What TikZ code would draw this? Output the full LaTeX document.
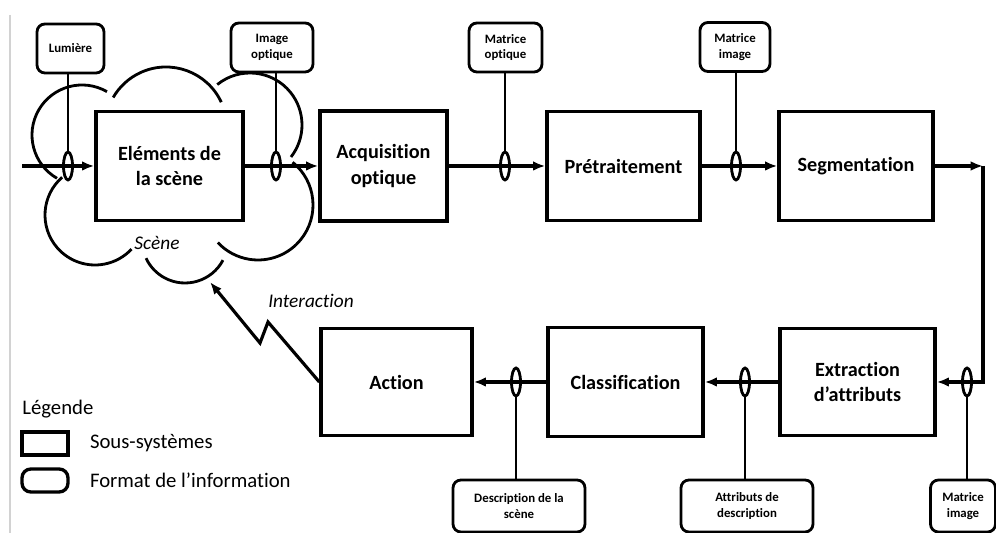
\documentclass[tikz,border=0pt]{standalone}
\usepackage{fontspec}
\setmainfont{Carlito}[Ligatures=NoCommon]
\usetikzlibrary{arrows.meta,positioning,shapes.geometric}
\tikzset{every picture/.style={
  >={Latex[length=7pt,width=5.5pt]}   % Solid arrow heads.
  }
}

\begin{document}
\begin{tikzpicture}[
    x=0.02cm, y=0.02cm,
    sys/.style={                % Boxes denoting sub-systems.
      rectangle,
      draw,
      line width=1.9pt,
      align=center,
      inner sep=0pt,
      font=\fontsize{11.5}{14.5}\selectfont\bfseries
    },
    fmt/.style={                % Rounded boxes denoting information formats.
      rectangle,
      draw,
      rounded corners=4.5pt,
      line width=1.6pt,
      align=center,
      inner sep=0pt,
      font=\fontsize{7.3}{9}\selectfont\bfseries
    },
    ring/.style={               % Small rings on the data flow.
      ellipse,
      draw,
      line width=1.6pt,
      minimum width=0.18cm,
      minimum height=0.56cm,
      inner sep=0pt
    },
    flow/.style={->, line width=1.8pt},
    link/.style={line width=1.6pt},
    cloud/.style={line width=1.6pt},
    lbl/.style={                % Styling of label text.
      font=\fontsize{11}{13}\selectfont\itshape
    },
    leg/.style={
      font=\fontsize{11.8}{14}\selectfont,
      inner sep=0pt
    }]
    \useasboundingbox (0,0) rectangle (996,533);
    \draw[gray!35, line width=0.6pt] (10,518) -- (10,0);

    % Outline of the scene.
    \draw[cloud] (82,398) ++(60:50) arc[start angle=60, end angle=240, radius=50];
    \draw[cloud] (166,405) ++(25:61) arc[start angle=25, end angle=150, radius=61];
    \draw[cloud] (250,408) ++(129:52) arc[start angle=129, end angle=-38, radius=52];
    \draw[cloud] (258,328) ++(51:55) arc[start angle=51, end angle=-137, radius=55];
    \draw[cloud] (185,293) ++(-28:43) arc[start angle=-28, end angle=-155, radius=43];
    \draw[cloud] (95,318) ++(131:50) arc[start angle=131, end angle=317, radius=50];

    % The sub-systems.
    \node[sys, minimum width=2.94cm, minimum height=2.18cm] (scene) at (169.5,367)
      {Eléments de\\la scène};
    \node[sys, minimum width=2.54cm, minimum height=2.20cm] (acq) at (383.5,367)
      {Acquisition\\optique};
    \node[sys, minimum width=3.06cm, minimum height=2.18cm] (pre) at (623.5,367)
      {Prétraitement};
    \node[sys, minimum width=3.08cm, minimum height=2.18cm] (seg) at (856,367)
      {Segmentation};
    \node[sys, minimum width=3.10cm, minimum height=2.14cm] (ext) at (857.5,151)
      {Extraction\\d’attributs};
    \node[sys, minimum width=3.10cm, minimum height=2.18cm] (cla) at (625.5,151)
      {Classification};
    \node[sys, minimum width=3.02cm, minimum height=2.14cm] (act) at (396.5,151)
      {Action};

    % Rings on the flow.
    \node[ring] (r1) at (68,367) {};
    \node[ring] (r2) at (276,367) {};
    \node[ring] (r3) at (505,367) {};
    \node[ring] (r4) at (736,367) {};
    \node[ring] (r5) at (967,151) {};
    \node[ring] (r6) at (745,151) {};
    \node[ring] (r7) at (516,151) {};

    % Information formats.
    \node[fmt, minimum width=1.34cm, minimum height=0.98cm] (lum) at (70.5,484.5)
      {Lumière};
    \node[fmt, minimum width=1.64cm, minimum height=0.98cm] (imo) at (272,485.5)
      {Image\\optique};
    \node[fmt, minimum width=1.46cm, minimum height=0.98cm] (mop) at (505.5,485.5)
      {Matrice\\optique};
    \node[fmt, minimum width=1.40cm, minimum height=0.98cm] (mim) at (735,486)
      {Matrice\\image};
    \node[fmt, minimum width=1.30cm, minimum height=1.04cm] (mimb) at (963,27)
      {Matrice\\image};
    \node[fmt, minimum width=2.64cm, minimum height=1.04cm] (att) at (747,27)
      {Attributs de\\description};
    \node[fmt, minimum width=2.64cm, minimum height=1.04cm] (desc) at (519,27)
      {Description de la\\scène};

    % Data flow.
    \coordinate (src) at (22,367);
    \coordinate (turn1) at (983,367);
    \coordinate (turn2) at (983,151);
    \draw[flow] (src) -- (scene.west);
    \draw[flow] (scene.east) -- (acq.west);
    \draw[flow] (acq.east) -- (pre.west);
    \draw[flow] (pre.east) -- (seg.west);
    \draw[flow] (seg.east) -- (turn1);
    \draw[flow] (turn1) -- (turn2) -- (ext.east);
    \draw[flow] (ext.west) -- (cla.east);
    \draw[flow] (cla.west) -- (act.east);

    % Formats hooked onto the flow.
    \draw[link] (r1.north) -- (r1 |- lum.south);
    \draw[link] (r2.north) -- (r2 |- imo.south);
    \draw[link] (r3.north) -- (r3 |- mop.south);
    \draw[link] (r4.north) -- (r4 |- mim.south);
    \draw[link] (r5.south) -- (r5 |- mimb.north);
    \draw[link] (r6.south) -- (r6 |- att.north);
    \draw[link] (r7.south) -- (r7 |- desc.north);

    % Interaction back to the scene.
    \coordinate (z1) at (268,211);
    \coordinate (z2) at (260,190);
    \coordinate (ztip) at (210,251);
    \draw[flow] (act.west) -- (z1) -- (z2) -- (ztip);
    \node[lbl] (inter) at (311,232) {Interaction};
    \node[lbl] (scn) at (157,290) {Scène};

    % Legend.
    \node[leg, anchor=west] (legend) at (22,124) {Légende};
    \node[sys, minimum width=0.92cm, minimum height=0.46cm] (isys) at (45,89.5) {};
    \node[fmt, line width=1.9pt, rounded corners=5pt, minimum width=0.92cm,
      minimum height=0.46cm] (ifmt) at (45,52.5) {};
    \node[leg] (lsys) [right=0.4cm of isys] {Sous-systèmes};
    \node[leg] (lfmt) [right=0.4cm of ifmt] {Format de l’information};
\end{tikzpicture}
\end{document}
